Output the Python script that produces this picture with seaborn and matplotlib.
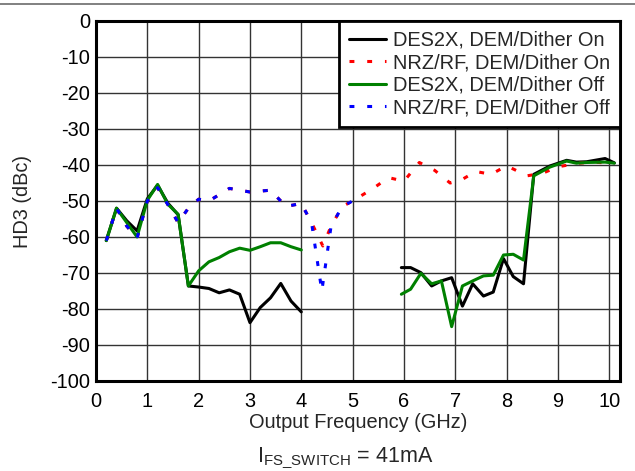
import matplotlib
matplotlib.use("Agg")
import matplotlib.pyplot as plt
from matplotlib.lines import Line2D
import seaborn as sns

# HD3 versus output frequency, I_FS_SWITCH = 41 mA
freq_des2x_lo = [0.2, 0.4, 0.6, 0.8, 1.0, 1.2, 1.4, 1.6, 1.8, 2.0,
                 2.2, 2.4, 2.6, 2.8, 3.0, 3.2, 3.4, 3.6, 3.8, 4.0]
hd3_des2x_on_lo = [-61, -52, -55.5, -58.3, -49.4, -45.6, -50.6, -53.8, -73.6, -73.9,
                   -74.3, -75.5, -74.7, -75.9, -83.8, -79.6, -76.9, -72.9, -77.8, -80.8]
hd3_des2x_off_lo = [-61, -52, -56, -60, -49.8, -45.4, -50.9, -53.7, -73.6, -69.4,
                    -66.9, -65.7, -64.1, -63.1, -63.7, -62.7, -61.6, -61.6, -62.7, -63.6]

freq_des2x_hi = [5.95, 6.13, 6.33, 6.54, 6.73, 6.93, 7.14, 7.34, 7.55, 7.74,
                 7.94, 8.13, 8.33, 8.53, 8.84, 9.17, 9.36, 9.56, 9.92, 10.1]
hd3_des2x_on_hi = [-68.5, -68.5, -69.9, -73.6, -72.2, -71.3, -79.2, -73.0, -76.4, -75.3,
                   -66.0, -71.0, -73.0, -42.6, -40.3, -38.7, -39.2, -39.1, -38.2, -39.4]
hd3_des2x_off_hi = [-75.9, -74.5, -70.1, -73.0, -72.2, -84.9, -73.6, -72.2, -70.8, -70.6,
                    -65.0, -64.8, -66.4, -43.0, -40.6, -38.9, -39.5, -39.3, -39.2, -39.5]

freq_nrz_on = [0.2, 0.4, 0.6, 0.8, 1.0, 1.2, 1.4, 1.6, 1.8, 2.0, 2.2, 2.6, 3.0, 3.4,
               3.7, 4.0, 4.2, 4.42, 4.58, 4.8, 5.0, 5.4, 5.7, 6.0, 6.3, 6.6, 6.9,
               7.1, 7.4, 7.7, 8.0, 8.4, 8.7, 9.0, 9.4, 9.7, 10.1]
hd3_nrz_on = [-61, -52, -57, -60.3, -50, -46.3, -51, -56, -52, -49.5, -50, -46.5, -47.5, -47,
              -51.5, -50.7, -56, -62.5, -57, -51.5, -50, -46.5, -43.5, -44.5, -39.3, -41.5, -45,
              -44.3, -41.8, -42.6, -40.2, -43, -42.3, -40.5, -39.5, -39.2, -39.6]

freq_nrz_off = [0.2, 0.4, 0.6, 0.8, 1.0, 1.2, 1.4, 1.6, 1.8, 2.0, 2.2, 2.6, 3.0, 3.4,
                3.7, 4.0, 4.2, 4.4, 4.58, 4.8, 5.0]
hd3_nrz_off = [-61, -52, -57, -60.3, -50, -46.3, -51, -56, -52, -49.5, -50, -46.5, -47.5, -47,
               -51.5, -50.7, -56, -75, -57, -51.5, -50]

series_labels = ["DES2X, DEM/Dither On", "NRZ/RF, DEM/Dither On",
                 "DES2X, DEM/Dither Off", "NRZ/RF, DEM/Dither Off"]
series_colors = ["black", "#ff0000", "#008000", "#0000ff"]
x_ticks = list(range(0, 11))
y_ticks = list(range(-100, 1, 10))

sns.set_style("white")
plt.rcParams["font.family"] = ["Liberation Sans", "DejaVu Sans"]
plt.rcParams["axes.unicode_minus"] = False
plt.rcParams["mathtext.fontset"] = "custom"
plt.rcParams["mathtext.rm"] = "Liberation Sans"
plt.rcParams["mathtext.it"] = "Liberation Sans:italic"

fs = 14.4
lw = 2.2
dash = (0, (1.6, 4.2))

fig = plt.figure(figsize=(6.35, 4.71), dpi=100)
ax = fig.add_axes([96 / 635, 1 - 381 / 471, (620 - 96) / 635, (381 - 21) / 471])

def draw(x, y, color, ls="-"):
    sns.lineplot(x=x, y=y, ax=ax, color=color, lw=lw, linestyle=ls,
                 sort=False, estimator=None, legend=False)

draw(freq_des2x_lo, hd3_des2x_on_lo, series_colors[0])
draw(freq_des2x_hi, hd3_des2x_on_hi, series_colors[0])
draw(freq_nrz_on, hd3_nrz_on, series_colors[1], dash)
draw(freq_des2x_lo, hd3_des2x_off_lo, series_colors[2])
draw(freq_des2x_hi, hd3_des2x_off_hi, series_colors[2])
draw(freq_nrz_off, hd3_nrz_off, series_colors[3], dash)

ax.set_xlim(0, 10.21)
ax.set_ylim(-100, 0)
ax.set_xticks(x_ticks)
ax.set_yticks(y_ticks)
ax.grid(True, color="#333333", lw=1.0)
ax.set_axisbelow(True)
for sp in ax.spines.values():
    sp.set_visible(True)
    sp.set_color("black")
    sp.set_linewidth(2.2)
ax.tick_params(length=0, labelsize=fs, colors="black")
ax.tick_params(axis="x", pad=8)
ax.tick_params(axis="y", pad=4)

ax.set_xlabel("Output Frequency (GHz)", fontsize=fs, labelpad=1)
ax.set_ylabel("HD3 (dBc)", fontsize=fs, labelpad=13)

handles = [Line2D([], [], color=c, lw=lw, linestyle=("-" if i % 2 == 0 else dash))
           for i, c in enumerate(series_colors)]
leg = ax.legend(handles, series_labels, loc="upper right", bbox_to_anchor=(1, 1),
                borderaxespad=0, fontsize=fs, frameon=True, fancybox=False,
                framealpha=1, edgecolor="black", handlelength=1.85,
                handletextpad=0.35, labelspacing=0.17, borderpad=0.5)
leg.get_frame().set_linewidth(2.0)

fig.text(345 / 635, 1 - 458 / 471, r"I$_{\mathregular{FS\_SWITCH}}$ = 41mA",
         fontsize=15.5, ha="center", va="center")

fig.add_artist(Line2D([0, 1], [1 - 3.5 / 471, 1 - 3.5 / 471],
                      transform=fig.transFigure, color="#808080", lw=1.4))

fig.savefig("out.png", dpi=100)
